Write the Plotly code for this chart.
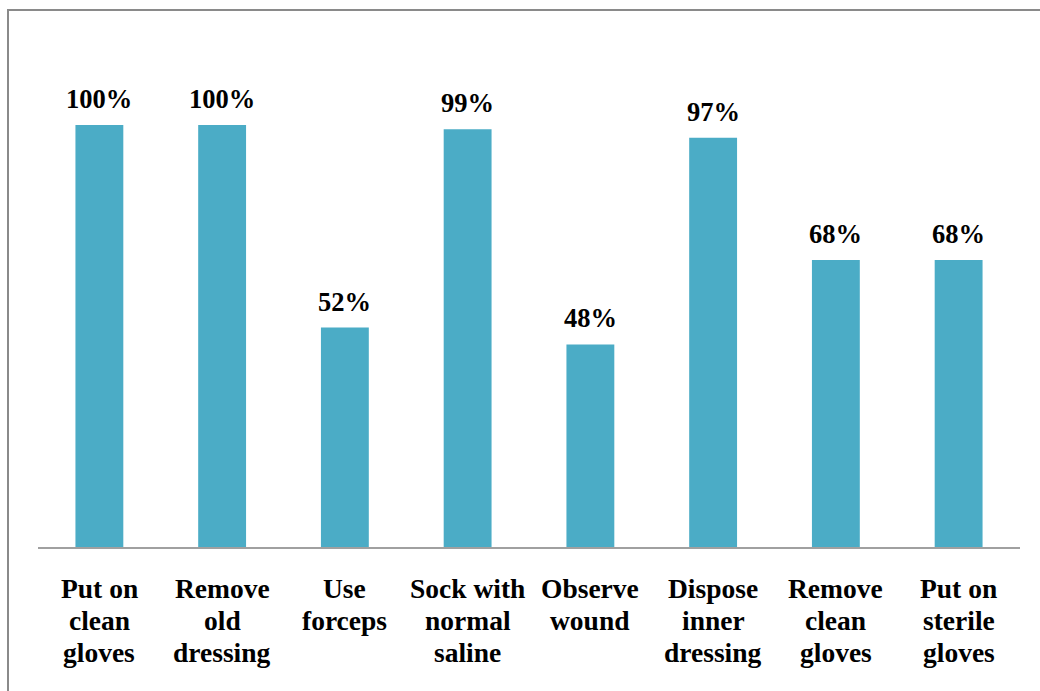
import plotly.graph_objects as go

categories = [
    "Put on clean gloves",
    "Remove old dressing",
    "Use forceps",
    "Sock with normal saline",
    "Observe wound",
    "Dispose inner dressing",
    "Remove clean gloves",
    "Put on sterile gloves",
]
category_lines = [
    ["Put on", "clean", "gloves"],
    ["Remove", "old", "dressing"],
    ["Use", "forceps"],
    ["Sock with", "normal", "saline"],
    ["Observe", "wound"],
    ["Dispose", "inner", "dressing"],
    ["Remove", "clean", "gloves"],
    ["Put on", "sterile", "gloves"],
]
values = [100, 100, 52, 99, 48, 97, 68, 68]
value_labels = [f"<b>{v}%</b>" for v in values]

W, H = 1040, 691
ML, MR, MT, MB = 38, 20, 20, 144
PW, PH = W - ML - MR, H - MT - MB

SERIF = "'Times New Roman', 'Liberation Serif', serif"
VALUE_FONT = dict(family=SERIF, size=26.5, color="black")
CAT_FONT = dict(family=SERIF, size=27.5, color="black")

fig = go.Figure()
fig.add_trace(go.Bar(
    x=categories,
    y=values,
    marker=dict(color="#4BACC6", line=dict(width=0)),
    hoverinfo="skip",
))

# percentage labels above each bar
for cat, val, lab in zip(categories, values, value_labels):
    fig.add_annotation(
        x=cat, y=val, text=lab, showarrow=False,
        xanchor="center", yanchor="bottom", yshift=9,
        font=VALUE_FONT,
    )

# category names below the axis, one annotation per line for tight leading
LINE_STEP = 32
FIRST_LINE = 41
for cat, lines in zip(categories, category_lines):
    for i, line in enumerate(lines):
        fig.add_annotation(
            x=cat, xref="x", y=0, yref="paper",
            text=f"<b>{line}</b>", showarrow=False,
            xanchor="center", yanchor="middle",
            yshift=-(FIRST_LINE + i * LINE_STEP),
            font=CAT_FONT,
        )

# outer frame around the chart area
fig.add_shape(
    type="rect", xref="paper", yref="paper",
    x0=(8 - ML) / PW, x1=(W + 20 - ML) / PW,
    y0=-(H + 20 - MT - PH) / PH, y1=1 + (MT - 10) / PH,
    line=dict(color="#8a8a8a", width=2), fillcolor="rgba(0,0,0,0)", layer="below",
)

fig.update_layout(
    width=W, height=H,
    margin=dict(l=ML, r=MR, t=MT, b=MB),
    paper_bgcolor="white",
    plot_bgcolor="white",
    bargap=0.61,
    showlegend=False,
)
fig.update_xaxes(
    showline=True, linecolor="#a0a0a0", linewidth=2,
    ticks="", showgrid=False, showticklabels=False,
)
fig.update_yaxes(
    range=[0, 100 * PH / (547 - 125)],
    visible=False, showgrid=False, zeroline=False,
)

fig.write_html("out.html")
